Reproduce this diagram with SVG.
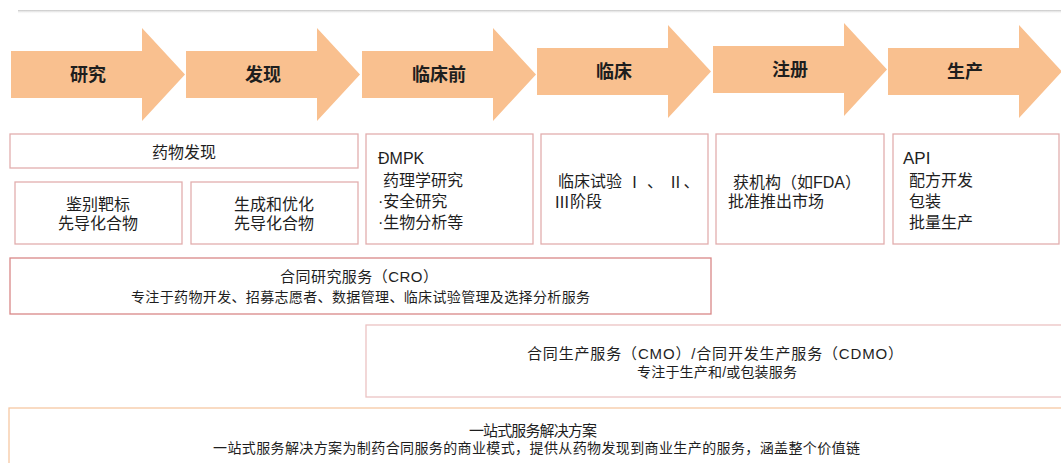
<svg xmlns="http://www.w3.org/2000/svg" width="1061" height="463" viewBox="0 0 1061 463">
  <defs>
    <path id="arrow" d="M0,23 H131 V0 L174,46.5 L131,93 V70 H0 Z"/>
    <linearGradient id="shadow" x1="0" y1="0" x2="0" y2="1">
      <stop offset="0" stop-color="#c4c4c4"/>
      <stop offset="1" stop-color="#ffffff" stop-opacity="0"/>
    </linearGradient>
  </defs>
  <style>
    text { font-family: "Liberation Sans", "Noto Sans CJK SC", sans-serif; fill: #1e1e1e; dominant-baseline: central; }
    .stage { fill: #F9C08F; }
    .lbl { font-size: 18px; font-weight: bold; text-anchor: middle; }
    .box { fill: #ffffff; stroke: #E2AEAE; stroke-width: 1.3; }
    .cro { fill: #ffffff; stroke: #D98888; stroke-width: 1.3; }
    .cmo { fill: #ffffff; stroke: #EBC3C3; stroke-width: 1.3; }
    .one { fill: #ffffff; stroke: #F6C8A4; stroke-width: 1.3; }
    .t { font-size: 16px; }
    .c { text-anchor: middle; }
    .s { font-size: 14px; text-anchor: middle; }
    .rn { font-family: "Noto Sans CJK SC", sans-serif; }
  </style>
  <rect width="1061" height="463" fill="#ffffff"/>
  <rect x="18" y="10" width="1043" height="4" fill="url(#shadow)"/>

  <g id="stages">
    <g id="stage-research"><use href="#arrow" class="stage" transform="translate(11,28)"/><text class="lbl" x="88" y="74.5">研究</text></g>
    <g id="stage-discovery"><use href="#arrow" class="stage" transform="translate(186,28)"/><text class="lbl" x="263" y="74.5">发现</text></g>
    <g id="stage-preclinical"><use href="#arrow" class="stage" transform="translate(362,28)"/><text class="lbl" x="439" y="74.5">临床前</text></g>
    <g id="stage-clinical"><use href="#arrow" class="stage" transform="translate(537,25)"/><text class="lbl" x="614" y="72">临床</text></g>
    <g id="stage-registration"><use href="#arrow" class="stage" transform="translate(713,23)"/><text class="lbl" x="790" y="70">注册</text></g>
    <g id="stage-production"><use href="#arrow" class="stage" transform="translate(888,25)"/><text class="lbl" x="965" y="72">生产</text></g>
  </g>

  <g id="drug-discovery">
    <rect class="box" x="10" y="134" width="348" height="34"/>
    <text class="t c" x="184" y="152">药物发现</text>
  </g>
  <g id="target-id">
    <rect class="box" x="15" y="182" width="167" height="62"/>
    <text class="t c" x="98" y="204">鉴别靶标</text>
    <text class="t c" x="98" y="223">先导化合物</text>
  </g>
  <g id="lead-opt">
    <rect class="box" x="191" y="182" width="167" height="62"/>
    <text class="t c" x="274" y="204">生成和优化</text>
    <text class="t c" x="274" y="223">先导化合物</text>
  </g>
  <g id="preclinical-box">
    <rect class="box" x="366" y="134" width="167" height="110"/>
    <text class="t" x="378" y="158">ĐMPK</text>
    <text class="t" x="383" y="180">药理学研究</text>
    <text class="t" x="378" y="201">·安全研究</text>
    <text class="t" x="378" y="222">·生物分析等</text>
  </g>
  <g id="clinical-box">
    <rect class="box" x="541" y="134" width="167" height="110"/>
    <text class="t" x="558" y="181">临床试验 <tspan class="rn">Ⅰ</tspan> 、 <tspan class="rn">Ⅱ</tspan>、</text>
    <text class="t" x="554" y="201"><tspan class="rn">Ⅲ</tspan>阶段</text>
  </g>
  <g id="registration-box">
    <rect class="box" x="716" y="134" width="168" height="110"/>
    <text class="t" x="733" y="182">获机构（如FDA）</text>
    <text class="t" x="728" y="201">批准推出市场</text>
  </g>
  <g id="production-box">
    <rect class="box" x="893" y="134" width="166" height="110"/>
    <text class="t" x="903" y="158" style="font-size:17px">API</text>
    <text class="t" x="909" y="180">配方开发</text>
    <text class="t" x="909" y="201">包装</text>
    <text class="t" x="909" y="222">批量生产</text>
  </g>

  <g id="cro">
    <rect class="cro" x="10" y="258" width="701" height="56"/>
    <text class="s" x="359" y="276" style="font-size:15px" textLength="158">合同研究服务（CRO）</text>
    <text class="s" x="360.5" y="297" textLength="459">专注于药物开发、招募志愿者、数据管理、临床试验管理及选择分析服务</text>
  </g>
  <g id="cmo">
    <rect class="cmo" x="366" y="325" width="700" height="72"/>
    <text class="s" x="715" y="353" style="font-size:15px" textLength="376">合同生产服务（CMO）/合同开发生产服务（CDMO）</text>
    <text class="s" x="717" y="372" textLength="160">专注于生产和/或包装服务</text>
  </g>
  <g id="one-stop">
    <rect class="one" x="9" y="408" width="1060" height="70"/>
    <text class="s" x="533" y="430" style="font-size:15px" textLength="128">一站式服务解决方案</text>
    <text class="s" x="536.5" y="448" textLength="647">一站式服务解决方案为制药合同服务的商业模式，提供从药物发现到商业生产的服务，涵盖整个价值链</text>
  </g>
  <g id="connectors"></g>
</svg>
